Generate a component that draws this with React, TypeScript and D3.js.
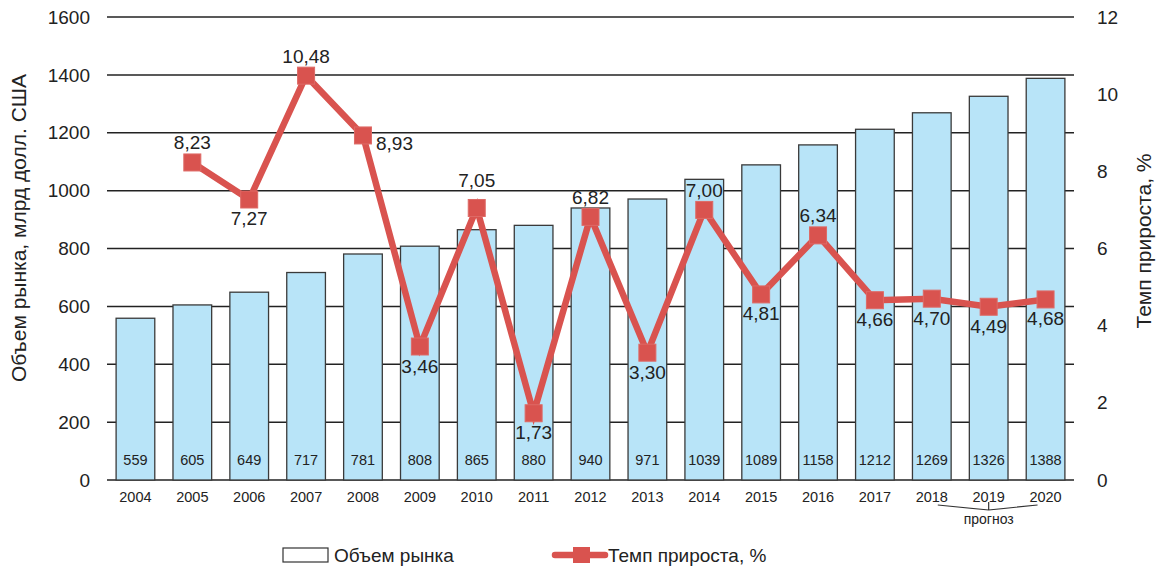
import React, { useEffect, useRef } from 'react';
import * as d3 from 'd3';

// chart data
const years = ['2004', '2005', '2006', '2007', '2008', '2009', '2010', '2011', '2012', '2013', '2014', '2015', '2016', '2017', '2018', '2019', '2020'];
const marketVolume = [559, 605, 649, 717, 781, 808, 865, 880, 940, 971, 1039, 1089, 1158, 1212, 1269, 1326, 1388];
const growthYears = years.slice(1);
const growthRate = [8.23, 7.27, 10.48, 8.93, 3.46, 7.05, 1.73, 6.82, 3.30, 7.00, 4.81, 6.34, 4.66, 4.70, 4.49, 4.68];
const labelSide = ['up', 'down', 'up', 'right', 'down', 'up', 'down', 'up', 'down', 'up', 'down', 'up', 'down', 'down', 'down', 'down'];
const leftTicks = [0, 200, 400, 600, 800, 1000, 1200, 1400, 1600];
const rightTicks = [0, 2, 4, 6, 8, 10, 12];
const forecastYears = ['2018', '2019', '2020'];

const FONT = '"Liberation Sans", Arial, sans-serif';
const RED = '#d9534f';

function App() {
    const svgRef = useRef<SVGSVGElement>(null);

    useEffect(() => {
        const width = 1158;
        const height = 569;
        const margin = { top: 17, right: 84, bottom: 89, left: 107 };

        const svg = d3.select(svgRef.current)
            .attr('width', width)
            .attr('height', height);

        svg.selectAll('*').remove();

        const x = d3.scaleBand()
            .domain(years)
            .range([margin.left, width - margin.right])
            .paddingInner(0.32)
            .paddingOuter(0.16);

        const y = d3.scaleLinear()
            .domain([0, 1600])
            .range([height - margin.bottom, margin.top]);

        const y2 = d3.scaleLinear()
            .domain([0, 12])
            .range([height - margin.bottom, margin.top]);

        const cx = (d: string) => (x(d) as number) + x.bandwidth() / 2;

        // gridlines
        svg.append('g')
            .selectAll('line')
            .data(leftTicks)
            .join('line')
            .attr('x1', margin.left)
            .attr('x2', width - margin.right)
            .attr('y1', d => y(d))
            .attr('y2', d => y(d))
            .attr('stroke', '#222')
            .attr('stroke-width', 1.5);

        // left tick labels
        svg.append('g')
            .selectAll('text')
            .data(leftTicks)
            .join('text')
            .attr('x', 90)
            .attr('y', d => y(d))
            .attr('dy', '0.35em')
            .attr('text-anchor', 'end')
            .attr('font-family', FONT)
            .attr('font-size', 19)
            .attr('fill', '#222')
            .text(d => d);

        // right tick labels
        svg.append('g')
            .selectAll('text')
            .data(rightTicks)
            .join('text')
            .attr('x', 1097)
            .attr('y', d => y2(d))
            .attr('dy', '0.35em')
            .attr('text-anchor', 'start')
            .attr('font-family', FONT)
            .attr('font-size', 19)
            .attr('fill', '#222')
            .text(d => d);

        // axis titles
        svg.append('text')
            .attr('transform', `translate(26,${228}) rotate(-90)`)
            .attr('text-anchor', 'middle')
            .attr('font-family', FONT)
            .attr('font-size', 21)
            .attr('fill', '#222')
            .text('Объем рынка, млрд долл. США');

        svg.append('text')
            .attr('transform', `translate(1151,${241}) rotate(-90)`)
            .attr('text-anchor', 'middle')
            .attr('font-family', FONT)
            .attr('font-size', 21)
            .attr('fill', '#222')
            .text('Темп прироста, %');

        // bars
        svg.append('g')
            .selectAll('rect')
            .data(marketVolume)
            .join('rect')
            .attr('x', (d, i) => x(years[i]) as number)
            .attr('y', d => y(d))
            .attr('width', x.bandwidth())
            .attr('height', d => y(0) - y(d))
            .attr('fill', '#b8e4f8')
            .attr('stroke', '#3a3a3a')
            .attr('stroke-width', 1.3);

        // bar values
        svg.append('g')
            .selectAll('text')
            .data(marketVolume)
            .join('text')
            .attr('x', (d, i) => cx(years[i]))
            .attr('y', 465)
            .attr('text-anchor', 'middle')
            .attr('font-family', FONT)
            .attr('font-size', 14.5)
            .attr('fill', '#222')
            .text(d => d);

        // year labels
        svg.append('g')
            .selectAll('text')
            .data(years)
            .join('text')
            .attr('x', d => cx(d))
            .attr('y', 502)
            .attr('text-anchor', 'middle')
            .attr('font-family', FONT)
            .attr('font-size', 14.5)
            .attr('fill', '#222')
            .text(d => d);

        // forecast bracket
        const fx0 = cx(forecastYears[0]) + 6;
        const fx1 = cx(forecastYears[1]);
        const fx2 = cx(forecastYears[2]) - 8;
        svg.append('path')
            .attr('d', `M${fx0},505 L${fx1},510 L${fx2},505 M${fx1},502 L${fx1},510`)
            .attr('fill', 'none')
            .attr('stroke', '#333')
            .attr('stroke-width', 1.2);
        svg.append('text')
            .attr('x', fx1)
            .attr('y', 524)
            .attr('text-anchor', 'middle')
            .attr('font-family', FONT)
            .attr('font-size', 14)
            .attr('fill', '#222')
            .text('прогноз');

        // growth line
        const line = d3.line<number>()
            .x((d, i) => cx(growthYears[i]))
            .y(d => y2(d));

        svg.append('path')
            .datum(growthRate)
            .attr('fill', 'none')
            .attr('stroke', RED)
            .attr('stroke-width', 6.5)
            .attr('stroke-linejoin', 'miter')
            .attr('d', line);

        const ms = 17;
        svg.append('g')
            .selectAll('rect')
            .data(growthRate)
            .join('rect')
            .attr('x', (d, i) => cx(growthYears[i]) - ms / 2)
            .attr('y', d => y2(d) - ms / 2)
            .attr('width', ms)
            .attr('height', ms)
            .attr('fill', RED)
            .attr('stroke', '#de6a66')
            .attr('stroke-width', 1);

        // growth labels
        svg.append('g')
            .selectAll('text')
            .data(growthRate)
            .join('text')
            .attr('x', (d, i) => cx(growthYears[i]) + (labelSide[i] === 'right' ? 13 : 0))
            .attr('y', (d, i) => {
                const side = labelSide[i];
                if (side === 'up') return y2(d) - (d === 7.05 ? 21 : 13);
                if (side === 'right') return y2(d) + 15;
                return y2(d) + 26;
            })
            .attr('text-anchor', (d, i) => labelSide[i] === 'right' ? 'start' : 'middle')
            .attr('font-family', FONT)
            .attr('font-size', 19)
            .attr('fill', '#222')
            .text(d => d.toFixed(2).replace('.', ','));

        // legend
        const legend = svg.append('g');
        legend.append('rect')
            .attr('x', 283)
            .attr('y', 548)
            .attr('width', 45)
            .attr('height', 14)
            .attr('fill', '#fff')
            .attr('stroke', '#333')
            .attr('stroke-width', 1.2);
        legend.append('text')
            .attr('x', 334)
            .attr('y', 562)
            .attr('font-family', FONT)
            .attr('font-size', 19)
            .attr('fill', '#222')
            .text('Объем рынка');

        legend.append('line')
            .attr('x1', 555)
            .attr('x2', 605)
            .attr('y1', 555)
            .attr('y2', 555)
            .attr('stroke', RED)
            .attr('stroke-width', 6.5)
            .attr('stroke-linecap', 'round');
        legend.append('rect')
            .attr('x', 573)
            .attr('y', 547)
            .attr('width', 17)
            .attr('height', 16)
            .attr('fill', RED);
        legend.append('text')
            .attr('x', 608)
            .attr('y', 562)
            .attr('font-family', FONT)
            .attr('font-size', 19)
            .attr('fill', '#222')
            .text('Темп прироста, %');
    }, []);

    return (
        <div style={{ position: 'absolute', left: 0, top: 0 }}>
            <svg ref={svgRef} style={{ display: 'block' }}></svg>
        </div>
    );
}

export default App;
